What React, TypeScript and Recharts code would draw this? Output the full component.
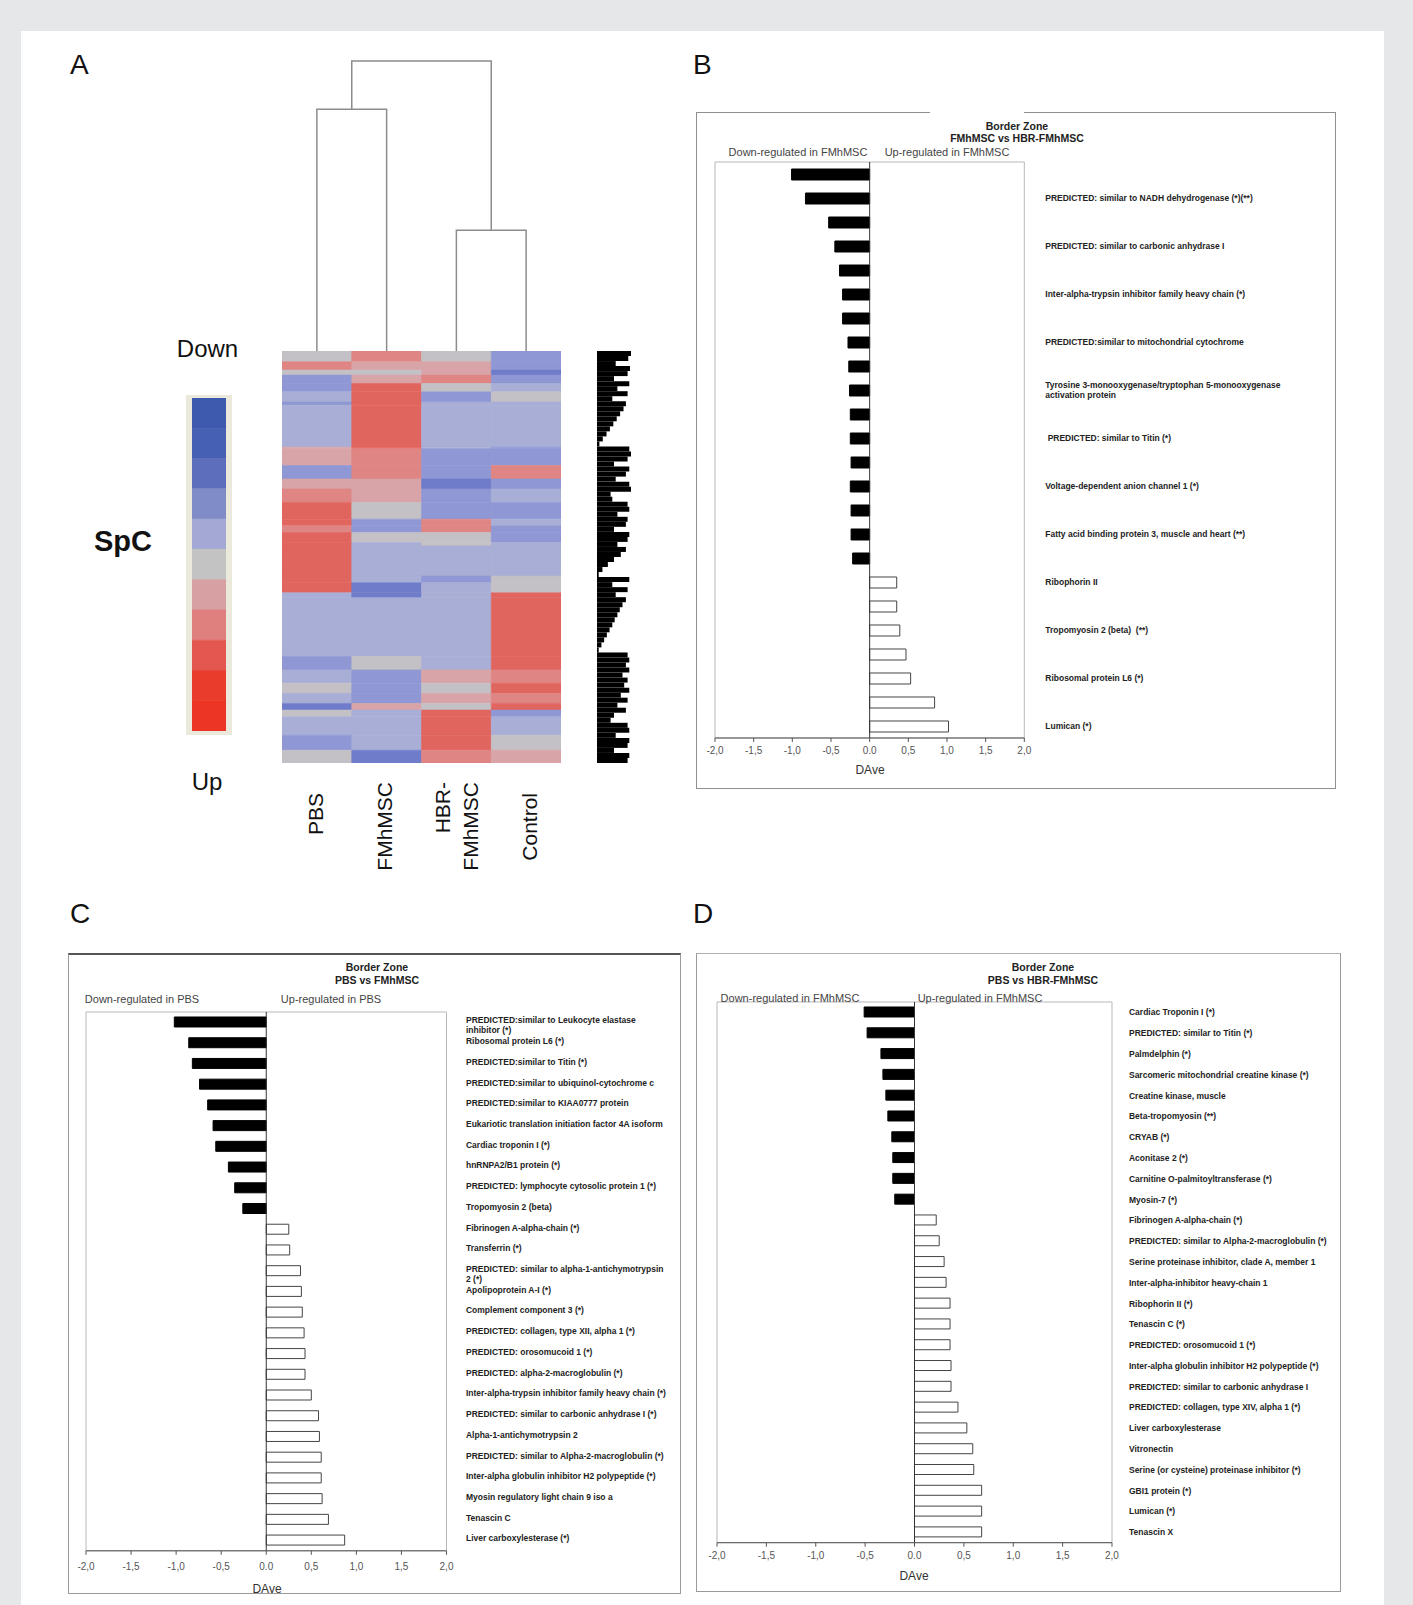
import React from 'react';
import {
  BarChart,
  Bar,
  XAxis,
  YAxis,
  Cell,
  LineChart,
  Line,
  ReferenceLine,
  ReferenceArea,
} from 'recharts';

const SANS = "'Liberation Sans', Arial, Helvetica, sans-serif";
const NARROW = "'Liberation Sans Narrow', 'Liberation Sans', Arial, sans-serif";

// ---------- panel A: clustering ----------
const groups = ['PBS', 'FMhMSC', 'HBR-FMhMSC', 'Control'];

// agglomerative merges (height relative to the root)
const linkage = [
  { left: [0], right: [1], height: 0.834 },
  { left: [2], right: [3], height: 0.416 },
  { left: [0, 1], right: [2, 3], height: 1.0 },
];

// heatmap bands, top to bottom: size in genes (relative) and level per group
const bandSizes = [
  3.2, 2.5, 1.5, 2.5, 2.5, 3.0, 1.0, 12.5, 0.5, 5.0, 4.0, 3.0, 4.0, 5.0, 2.0, 2.0,
  3.0, 1.0, 9.0, 2.0, 3.0, 1.5, 17.5, 4.0, 4.0, 3.0, 3.0, 2.0, 2.0, 5.5, 4.5, 3.8,
];
const bandLevels = [
  [0, 2, 0, -2], [2, 1, 1, -2], [0, 0, 1, -3], [-2, 1, 2, -2],
  [-2, 3, 0, -1], [-1, 3, -2, 0], [-2, 3, -1, -1], [-1, 3, -1, -1],
  [1, 3, -1, -2], [1, 2, -2, -2], [-2, 2, -2, 2], [1, 1, -3, -2],
  [2, 1, -2, -1], [3, 0, -2, -2], [3, -2, 2, -1], [2, -2, 2, -2],
  [3, 0, 0, -2], [3, -1, 0, -1], [3, -1, -1, -1], [3, -1, -2, 0],
  [3, -3, -1, 0], [-1, -3, -1, 3], [-1, -1, -1, 3], [-2, 0, -1, 3],
  [-1, -2, 1, 2], [0, -2, 0, 3], [-1, -2, 1, 2], [-3, 1, 0, 3],
  [0, -1, 3, -2], [-1, -1, 3, -1], [-2, -1, 3, 0], [0, -3, 2, 1],
];

// row dendrogram leaf lengths (top to bottom)
const rowTree = [
  1, 0.92, 0.55, 0.97, 0.9, 0.5, 0.95, 0.6, 0.9, 0.45, 0.85,
  0.78, 0.68, 0.58, 0.48, 0.38, 0.28, 0.17, 0.07,
  0.95, 1, 0.9, 0.5, 0.95, 0.85, 0.55, 0.95, 1, 0.4, 0.45, 0.9, 0.95, 0.6, 0.9, 0.85, 0.5, 0.95, 0.9, 0.6, 0.85,
  0.7, 0.5, 0.32, 0.16, 0.05,
  0.95, 0.45, 0.9, 0.55, 0.85,
  0.75, 0.67, 0.6, 0.52, 0.45, 0.37, 0.29, 0.21, 0.13, 0.05,
  0.9, 0.95, 0.85, 0.95, 0.75, 0.9, 0.8, 0.95, 0.7, 0.9, 0.6, 0.85, 0.5, 0.4, 0.9, 0.95, 0.55, 0.95, 0.9, 0.5,
  0.95, 0.9,
];

const levelColor: Record<number, string> = {
  [-3]: '#6f7cca',
  [-2]: '#8f98d4',
  [-1]: '#a9aed6',
  0: '#c4c1c6',
  1: '#d9a4a7',
  2: '#df8583',
  3: '#e1655f',
};

const keyColors = [
  '#3e5aae', '#4661b3', '#5c6ebc', '#808cc7', '#a3a9d4', '#c3c3c3',
  '#d7a1a3', '#df807f', '#e45751', '#ea3c2d', '#ec3525',
];

// ---------- panels B, C, D ----------
const bValues = [
  -1.01, -0.83, -0.53, -0.45, -0.39, -0.35, -0.35, -0.28, -0.27, -0.26, -0.25, -0.25,
  -0.24, -0.25, -0.24, -0.24, -0.22, 0.35, 0.35, 0.39, 0.47, 0.53, 0.84, 1.02,
];
const bLabels = [
  '', 'PREDICTED: similar to NADH dehydrogenase (*)(**)',
  '', 'PREDICTED: similar to carbonic anhydrase I',
  '', 'Inter-alpha-trypsin inhibitor family heavy chain (*)',
  '', 'PREDICTED:similar to mitochondrial cytochrome',
  '', 'Tyrosine 3-monooxygenase/tryptophan 5-monooxygenase\nactivation protein',
  '', ' PREDICTED: similar to Titin (*)',
  '', 'Voltage-dependent anion channel 1 (*)',
  '', 'Fatty acid binding protein 3, muscle and heart (**)',
  '', 'Ribophorin II',
  '', 'Tropomyosin 2 (beta)  (**)',
  '', 'Ribosomal protein L6 (*)',
  '', 'Lumican (*)',
];

const cValues = [
  -1.02, -0.86, -0.82, -0.74, -0.65, -0.59, -0.56, -0.42, -0.35, -0.26,
  0.25, 0.26, 0.38, 0.39, 0.4, 0.42, 0.43, 0.43, 0.5, 0.58, 0.59, 0.61, 0.61, 0.62, 0.69, 0.87,
];
const cLabels = [
  'PREDICTED:similar to Leukocyte elastase\ninhibitor (*)',
  'Ribosomal protein L6 (*)',
  'PREDICTED:similar to Titin (*)',
  'PREDICTED:similar to ubiquinol-cytochrome c',
  'PREDICTED:similar to KIAA0777 protein',
  'Eukariotic translation initiation factor 4A isoform',
  'Cardiac troponin I (*)',
  'hnRNPA2/B1 protein (*)',
  'PREDICTED: lymphocyte cytosolic protein 1 (*)',
  'Tropomyosin 2 (beta)',
  'Fibrinogen A-alpha-chain (*)',
  'Transferrin (*)',
  'PREDICTED: similar to alpha-1-antichymotrypsin\n2 (*)',
  'Apolipoprotein A-I (*)',
  'Complement component 3 (*)',
  'PREDICTED: collagen, type XII, alpha 1 (*)',
  'PREDICTED: orosomucoid 1 (*)',
  'PREDICTED: alpha-2-macroglobulin (*)',
  'Inter-alpha-trypsin inhibitor family heavy chain (*)',
  'PREDICTED: similar to carbonic anhydrase I (*)',
  'Alpha-1-antichymotrypsin 2',
  'PREDICTED: similar to Alpha-2-macroglobulin (*)',
  'Inter-alpha globulin inhibitor H2 polypeptide (*)',
  'Myosin regulatory light chain 9 iso a',
  'Tenascin C',
  'Liver carboxylesterase (*)',
];

const dValues = [
  -0.51, -0.48, -0.34, -0.32, -0.29, -0.27, -0.23, -0.22, -0.22, -0.2,
  0.22, 0.25, 0.3, 0.32, 0.36, 0.36, 0.36, 0.37, 0.37, 0.44, 0.53, 0.59, 0.6, 0.68, 0.68, 0.68,
];
const dLabels = [
  'Cardiac Troponin I (*)',
  'PREDICTED: similar to Titin (*)',
  'Palmdelphin (*)',
  'Sarcomeric mitochondrial creatine kinase (*)',
  'Creatine kinase, muscle',
  'Beta-tropomyosin (**)',
  'CRYAB (*)',
  'Aconitase 2 (*)',
  'Carnitine O-palmitoyltransferase (*)',
  'Myosin-7 (*)',
  'Fibrinogen A-alpha-chain (*)',
  'PREDICTED: similar to Alpha-2-macroglobulin (*)',
  'Serine proteinase inhibitor, clade A, member 1',
  'Inter-alpha-inhibitor heavy-chain 1',
  'Ribophorin II (*)',
  'Tenascin C (*)',
  'PREDICTED: orosomucoid 1 (*)',
  'Inter-alpha globulin inhibitor H2 polypeptide (*)',
  'PREDICTED: similar to carbonic anhydrase I',
  'PREDICTED: collagen, type XIV, alpha 1 (*)',
  'Liver carboxylesterase',
  'Vitronectin',
  'Serine (or cysteine) proteinase inhibitor (*)',
  'GBI1 protein (*)',
  'Lumican (*)',
  'Tenascin X',
];

const daveTicks = [-2, -1.5, -1, -0.5, 0, 0.5, 1, 1.5, 2];
const fmtTick = (v: number) => (v === 0 ? '0.0' : v.toFixed(1).replace('.', ','));

// ---------- components ----------
const GeneTick = (props: any) => {
  const { x, y, payload, labels, gap, fontSize, firstLine } = props;
  const txt: string = labels[payload.value] || '';
  if (!txt) return <g />;
  const lines = txt.split('\n');
  const lh = fontSize * 1.15;
  const y0 = firstLine ? y - 2 : y - ((lines.length - 1) * lh) / 2;
  return (
    <text x={x + gap} y={y0} fontFamily={NARROW} fontWeight="bold" fontSize={fontSize} fill="#222" textAnchor="start" xmlSpace="preserve">
      {lines.map((l, k) => (
        <tspan key={k} x={x + gap} dy={k === 0 ? fontSize * 0.35 : lh}>
          {l}
        </tspan>
      ))}
    </text>
  );
};

interface DiffProps {
  values: number[];
  labels: string[];
  left: number;
  top: number;
  plotW: number;
  plotH: number;
  labelW: number;
  gap: number;
  barSize: number;
  tickMargin: number;
  fontSize: number;
  firstLine?: boolean;
}

const DiffChart = (p: DiffProps) => {
  const data = p.values.map((v, i) => ({ i, v }));
  const pad = 10;
  return (
    <div style={{ position: 'absolute', left: p.left - pad, top: p.top - pad }}>
      <BarChart
        layout="vertical"
        width={pad + p.plotW + p.labelW}
        height={pad + p.plotH + 30}
        data={data}
        margin={{ top: pad, left: pad, right: 0, bottom: 0 }}
        barCategoryGap={0}
      >
        <XAxis
          type="number"
          domain={[-2, 2]}
          ticks={daveTicks}
          tickFormatter={fmtTick}
          height={30}
          axisLine={{ stroke: '#555' }}
          tickLine={{ stroke: '#555' }}
          tickSize={4}
          tickMargin={p.tickMargin}
          tick={{ fontSize: 10, fill: '#555', fontFamily: SANS }}
        />
        <YAxis
          type="category"
          dataKey="i"
          orientation="right"
          width={p.labelW}
          axisLine={false}
          tickLine={false}
          tickSize={0}
          tickMargin={0}
          interval={0}
          tick={(tp: any) => (
            <GeneTick {...tp} labels={p.labels} gap={p.gap} fontSize={p.fontSize} firstLine={p.firstLine} />
          )}
        />
        <ReferenceArea x1={-2} x2={2} fill="none" stroke="#b8b8b8" strokeWidth={1} ifOverflow="visible" />
        <ReferenceLine x={0} stroke="#333" strokeWidth={1} />
        <Bar dataKey="v" barSize={p.barSize} isAnimationActive={false}>
          {data.map((d) => (
            <Cell key={d.i} fill={d.v < 0 ? '#000' : '#fff'} stroke={d.v < 0 ? '#000' : '#444'} strokeWidth={1} />
          ))}
        </Bar>
      </BarChart>
    </div>
  );
};

const heightOf = (members: number[]) => {
  if (members.length === 1) return 0;
  const m = linkage.find((l) => [...l.left, ...l.right].sort().join() === [...members].sort().join());
  return m ? m.height : 0;
};
const centerOf = (members: number[]) => members.reduce((s, i) => s + i + 0.5, 0) / members.length;

const dendroLinks = linkage.map((l) => [
  { x: centerOf(l.left), y: heightOf(l.left) },
  { x: centerOf(l.left), y: l.height },
  { x: centerOf(l.right), y: l.height },
  { x: centerOf(l.right), y: heightOf(l.right) },
]);

const heatTotal = bandSizes.reduce((s, v) => s + v, 0);
const heatData = groups.map((g) => {
  const row: Record<string, number | string> = { g };
  bandSizes.forEach((s, k) => (row['b' + k] = s));
  return row;
});

const keyData = [{ k: 'key', ...Object.fromEntries(keyColors.map((_, k) => ['s' + k, 1])) }];
const treeData = rowTree.map((v, k) => ({ k, v }));

const colLabels = [
  { text: 'PBS', x: 323, y: 793 },
  { text: 'FMhMSC', x: 392, y: 782 },
  { text: 'HBR-', x: 450, y: 782 },
  { text: 'FMhMSC', x: 477.5, y: 782 },
  { text: 'Control', x: 537, y: 793 },
];

export default function App() {
  return (
    <div style={{ position: 'absolute', left: 0, top: 0, width: 1413, height: 1605, background: '#e6e7e9', overflow: 'hidden' }}>
      <div style={{ position: 'absolute', left: 21, top: 31, width: 1363, height: 1574, background: '#fff' }} />

      {/* panel frames */}
      <div style={{ position: 'absolute', left: 696, top: 112, width: 640, height: 677, border: '1.5px solid #8f8f8f', boxSizing: 'border-box' }} />
      <div style={{ position: 'absolute', left: 930, top: 110, width: 94, height: 4, background: '#fff' }} />
      <div style={{ position: 'absolute', left: 68, top: 953, width: 613, height: 641, border: '1.5px solid #9a9a9a', borderTop: '2px solid #555', boxSizing: 'border-box' }} />
      <div style={{ position: 'absolute', left: 696, top: 953, width: 645, height: 639, border: '1.5px solid #9a9a9a', borderTop: '1.5px solid #b0b0b0', boxSizing: 'border-box' }} />

      {/* A: column dendrogram */}
      <div style={{ position: 'absolute', left: 282, top: 60 }}>
        <LineChart width={279} height={292} margin={{ top: 1, right: 0, bottom: 1, left: 0 }}>
          <XAxis type="number" dataKey="x" domain={[0, 4]} hide />
          <YAxis type="number" domain={[0, 1]} hide />
          {dendroLinks.map((pts, k) => (
            <Line key={k} data={pts} dataKey="y" type="linear" stroke="#8c8c8c" strokeWidth={1.5} dot={false} isAnimationActive={false} />
          ))}
        </LineChart>
      </div>

      {/* A: heatmap */}
      <div style={{ position: 'absolute', left: 282, top: 351 }}>
        <BarChart width={279} height={412} data={heatData} margin={{ top: 0, right: 0, bottom: 0, left: 0 }} barCategoryGap={0}>
          <XAxis dataKey="g" hide />
          <YAxis type="number" domain={[0, heatTotal]} reversed hide />
          {bandSizes.map((_, k) => (
            <Bar key={k} dataKey={'b' + k} stackId="h" isAnimationActive={false}>
              {groups.map((g, c) => (
                <Cell key={g} fill={levelColor[bandLevels[k][c]]} stroke={levelColor[bandLevels[k][c]]} strokeWidth={0.6} />
              ))}
            </Bar>
          ))}
        </BarChart>
      </div>

      {/* A: row dendrogram */}
      <div style={{ position: 'absolute', left: 597, top: 351 }}>
        <BarChart layout="vertical" width={34} height={412} data={treeData} margin={{ top: 0, right: 0, bottom: 0, left: 0 }} barCategoryGap={0}>
          <XAxis type="number" domain={[0, 1]} hide />
          <YAxis type="category" dataKey="k" hide />
          <Bar dataKey="v" fill="#000" isAnimationActive={false} />
        </BarChart>
      </div>

      {/* A: colour key */}
      <div style={{ position: 'absolute', left: 186, top: 395, width: 46, height: 340, background: '#ebe9dc' }} />
      <div style={{ position: 'absolute', left: 192, top: 398 }}>
        <BarChart width={34} height={333} data={keyData} margin={{ top: 0, right: 0, bottom: 0, left: 0 }} barCategoryGap={0}>
          <XAxis dataKey="k" hide />
          <YAxis type="number" domain={[0, keyColors.length]} reversed hide />
          {keyColors.map((c, k) => (
            <Bar key={k} dataKey={'s' + k} stackId="key" fill={c} stroke={c} strokeWidth={0.6} isAnimationActive={false} />
          ))}
        </BarChart>
      </div>

      {/* B, C, D */}
      <DiffChart values={bValues} labels={bLabels} left={714.7} top={162} plotW={309.3} plotH={576} labelW={300} gap={21} barSize={11} tickMargin={5} fontSize={8.5} />
      <DiffChart values={cValues} labels={cLabels} left={86} top={1011.7} plotW={360.5} plotH={538.8} labelW={220} gap={19.5} barSize={10} tickMargin={8} fontSize={8.5} firstLine />
      <DiffChart values={dValues} labels={dLabels} left={717} top={1002.3} plotW={395} plotH={540.7} labelW={215} gap={17} barSize={10} tickMargin={5} fontSize={8.5} />

      {/* text layer */}
      <svg width={1413} height={1605} style={{ position: 'absolute', left: 0, top: 0, pointerEvents: 'none' }} fontFamily={SANS}>
        <text x={70} y={73.5} fontSize={28} fill="#111">A</text>
        <text x={693} y={73.5} fontSize={28} fill="#111">B</text>
        <text x={70} y={923} fontSize={28} fill="#111">C</text>
        <text x={693} y={923} fontSize={28} fill="#111">D</text>

        <text x={207.5} y={357} fontSize={24} textAnchor="middle" fill="#111">Down</text>
        <text x={207} y={790} fontSize={24} textAnchor="middle" fill="#111">Up</text>
        <text x={123} y={551} fontSize={29} fontWeight="bold" textAnchor="middle" fill="#111">SpC</text>
        {colLabels.map((c, k) => (
          <text key={k} x={c.x} y={c.y} fontSize={21} textAnchor="end" fill="#111" transform={`rotate(-90 ${c.x} ${c.y})`}>
            {c.text}
          </text>
        ))}

        <text x={1017} y={130} fontSize={10.5} fontWeight="bold" textAnchor="middle" fill="#222">Border Zone</text>
        <text x={1017} y={142} fontSize={10.5} fontWeight="bold" textAnchor="middle" fill="#222">FMhMSC vs HBR-FMhMSC</text>
        <text x={798} y={155.5} fontSize={11} textAnchor="middle" fill="#444">Down-regulated in FMhMSC</text>
        <text x={947} y={155.5} fontSize={11} textAnchor="middle" fill="#444">Up-regulated in FMhMSC</text>
        <text x={870} y={773.5} fontSize={12} textAnchor="middle" fill="#333">DAve</text>

        <text x={377} y={970.5} fontSize={10.5} fontWeight="bold" textAnchor="middle" fill="#222">Border Zone</text>
        <text x={377} y={984} fontSize={10.5} fontWeight="bold" textAnchor="middle" fill="#222">PBS vs FMhMSC</text>
        <text x={142} y={1003} fontSize={11} textAnchor="middle" fill="#444">Down-regulated in PBS</text>
        <text x={331} y={1003} fontSize={11} textAnchor="middle" fill="#444">Up-regulated in PBS</text>
        <text x={267} y={1592.5} fontSize={12} textAnchor="middle" fill="#333">DAve</text>

        <text x={1043} y={970.5} fontSize={10.5} fontWeight="bold" textAnchor="middle" fill="#222">Border Zone</text>
        <text x={1043} y={984} fontSize={10.5} fontWeight="bold" textAnchor="middle" fill="#222">PBS vs HBR-FMhMSC</text>
        <text x={790} y={1002} fontSize={11} textAnchor="middle" fill="#444">Down-regulated in FMhMSC</text>
        <text x={980} y={1002} fontSize={11} textAnchor="middle" fill="#444">Up-regulated in FMhMSC</text>
        <text x={914} y={1579.5} fontSize={12} textAnchor="middle" fill="#333">DAve</text>
      </svg>
    </div>
  );
}
